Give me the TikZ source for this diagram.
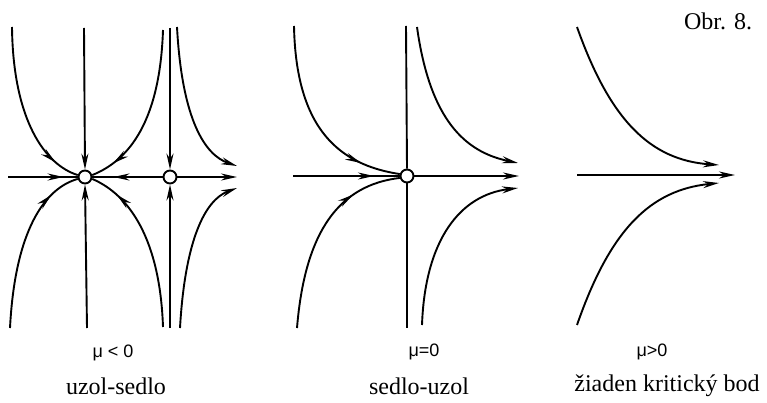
\documentclass[tikz,border=0pt]{standalone}
\usepackage{fontspec}
\setmainfont{Liberation Serif}
\newfontfamily\lsans{Liberation Sans}
\usetikzlibrary{arrows.meta,decorations.markings}
\tikzset{
  ln/.style={line width=1.9pt},
  tipend/.style={ln,-{Stealth[length=16pt,width=7pt]}},
  midarr/.style={ln,postaction={decorate},decoration={markings,mark=at position #1 with {\arrow[line width=1.9pt]{Stealth[length=16pt,width=7pt]}}}},
  crit/.style={circle,draw,fill=white,line width=1.9pt,minimum size=13pt,inner sep=0pt},
  mulab/.style={font=\lsans\fontsize{18}{20}\selectfont},
  caption/.style={font=\fontsize{24}{28}\selectfont},
}
\begin{document}
\begin{tikzpicture}[x=1pt,y=-1pt]
\useasboundingbox (0,0) rectangle (767,403);
% ---------- panel 1 ----------
\node[crit] (n1) at (85,177) {};
\node[crit] (n2) at (170,177) {};
\coordinate (h1) at (8,177);
\coordinate (h2) at (237,177);
\coordinate (v1t) at (84,28);
\coordinate (v1b) at (87,328);
\coordinate (v2t) at (170,28);
\coordinate (v2b) at (170,328);
\coordinate (c1) at (12,27);
\coordinate (c2) at (10,328);
\coordinate (c3) at (163,30);
\coordinate (c4) at (163,327);
\coordinate (c5) at (177,27);
\coordinate (c6) at (180,328);
\coordinate (e5) at (237,166);
\coordinate (e6) at (237,188);
\draw[midarr=0.8] (h1) -- (n1.west);
\draw[midarr=0.7] (n2.west) -- (n1.east);
\draw[tipend] (n2.east) -- (h2);
\draw[tipend] (v1t) -- (n1.north);
\draw[tipend] (v1b) -- (n1.south);
\draw[tipend] (v2t) -- (n2.north);
\draw[tipend] (v2b) -- (n2.south);
\draw[midarr=0.85] (c1) .. controls (13,120) and (45,165) .. (n1.165);
\draw[midarr=0.82] (c2) .. controls (15,230) and (45,188) .. (n1.195);
\draw[midarr=0.86] (c3) .. controls (160,120) and (130,160) .. (n1.15);
\draw[midarr=0.83] (c4) .. controls (160,240) and (130,195) .. (n1.-15);
\draw[tipend] (c5) .. controls (182,120) and (205,155) .. (e5);
\draw[tipend] (c6) .. controls (185,240) and (205,200) .. (e6);
% ---------- panel 2 ----------
\node[crit] (n3) at (407,176) {};
\coordinate (v3t) at (406,26);
\coordinate (v3b) at (407,328);
\coordinate (h3) at (293,176);
\coordinate (h4) at (519,176);
\coordinate (d1) at (294,26);
\coordinate (d2) at (297,328);
\coordinate (d3) at (417,27);
\coordinate (d4) at (422,325);
\coordinate (f3) at (518,163);
\coordinate (f4) at (518,188);
\draw[ln] (v3t) -- (n3.north);
\draw[ln] (n3.south) -- (v3b);
\draw[midarr=0.76] (h3) -- (n3.west);
\draw[tipend] (n3.east) -- (h4);
\draw[midarr=0.8] (d1) .. controls (296,130) and (340,165) .. (n3.165);
\draw[midarr=0.75] (d2) .. controls (305,230) and (340,185) .. (n3.195);
\draw[tipend] (d3) .. controls (430,120) and (465,152) .. (f3);
\draw[tipend] (d4) .. controls (425,240) and (460,195) .. (f4);
% ---------- panel 3 ----------
\coordinate (g1) at (577,175);
\coordinate (g2) at (735,175);
\coordinate (g3) at (577,27);
\coordinate (g4) at (719,165);
\coordinate (g5) at (577,325);
\coordinate (g6) at (719,183);
\draw[tipend] (g1) -- (g2);
\draw[tipend] (g3) .. controls (610,120) and (650,160) .. (g4);
\draw[tipend] (g5) .. controls (610,230) and (650,190) .. (g6);
% ---------- labels ----------
\node[caption] (obr) at (718,21) {Obr. 8.};
\node[mulab] (m1) at (113,353) {μ < 0};
\node[mulab] (m2) at (424,352) {μ=0};
\node[mulab] (m3) at (652,352) {μ>0};
\node[caption] (t1) at (116,386) {uzol-sedlo};
\node[caption] (t2) at (419,386) {sedlo-uzol};
\node[caption] (t3) at (667,386) {žiaden kritický bod};
\end{tikzpicture}
\end{document}
